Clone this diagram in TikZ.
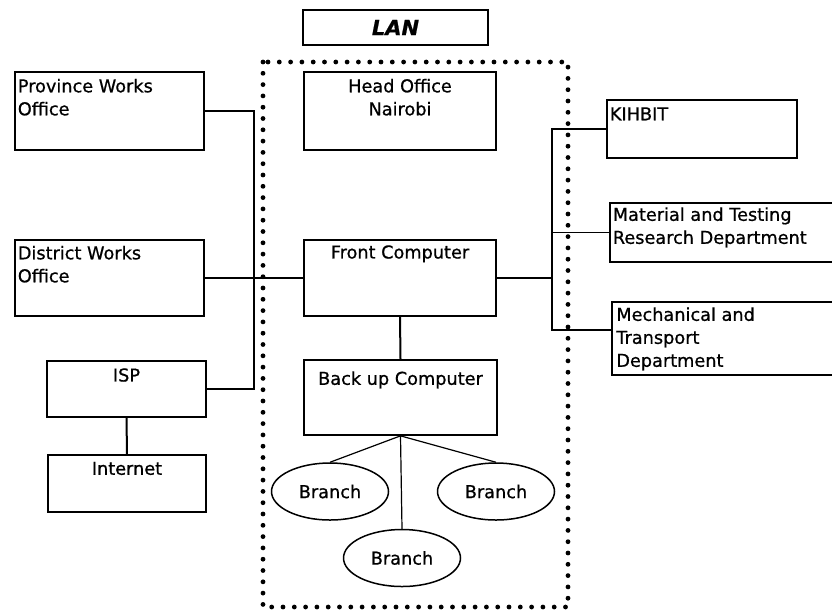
\documentclass[tikz,border=0pt]{standalone}
\usepackage{fontspec}
\setmainfont{DejaVu Sans}[FakeBold=0.8]
\usetikzlibrary{shapes.geometric}
\begin{document}
\begin{tikzpicture}[x=1pt,y=-1pt,
  font=\fontsize{17.7}{23}\selectfont,
  box/.style={draw, line width=1.7pt, inner sep=0pt},
  link/.style={line width=1.2pt},
  trunk/.style={line width=2pt},
  txt/.style={inner sep=0pt, align=left},
  tl/.style={txt, anchor=north west, xshift=3.5pt, yshift=-6.5pt},
  tc/.style={txt, anchor=north, align=center},
  branch/.style={draw, ellipse, line width=1.5pt, minimum width=117pt,
                 minimum height=57pt, inner sep=0pt},
  lanzone/.style={line width=4.8pt, line cap=round, dash pattern=on 0pt off 11.3pt}
]
\useasboundingbox (0,0) rectangle (832,614);
\clip (0,0) rectangle (832,614);

% title
\node[box, minimum width=185pt, minimum height=35pt,
      font=\fontsize{21}{21}\selectfont\bfseries\itshape] (lan) at (395.5,27.5) {LAN};

% left column
\node[box, minimum width=189pt, minimum height=78pt,
      label={[tl, yshift=-1pt]north west:Province Works\\Office}] (prov) at (109.5,111) {};
\node[box, minimum width=189pt, minimum height=76pt,
      label={[tl]north west:District Works\\Office}] (dist) at (109.5,278) {};
\node[box, minimum width=159pt, minimum height=56pt,
      label={[tc, yshift=-8pt]north:ISP}] (isp) at (126.5,389) {};
\node[box, minimum width=158pt, minimum height=57pt,
      label={[tc, yshift=-7.5pt]north:Internet}] (inet) at (127,483.5) {};

% centre column
\node[box, minimum width=192pt, minimum height=78pt,
      label={[tc, yshift=-7.5pt]north:Head Office\\Nairobi}] (head) at (400,111) {};
\node[box, minimum width=192pt, minimum height=76pt,
      label={[tc, yshift=-6pt]north:Front Computer}] (front) at (400,278) {};
\node[box, minimum width=193pt, minimum height=75pt,
      label={[tc, yshift=-12pt]north:Back up Computer}] (back) at (400.5,397.5) {};

\node[branch] (b1) at (330,491.5) {Branch};
\node[branch] (b3) at (496,491.5) {Branch};
\node[branch] (b2) at (402,558) {Branch};

% right column
\node[box, minimum width=190pt, minimum height=58pt,
      label={[tl, yshift=-1.5pt]north west:KIHBIT}] (kih) at (702,129) {};
\node[box, minimum width=250pt, minimum height=59pt,
      label={[tl, yshift=1.5pt]north west:Material and Testing\\Research Department}] (mat) at (735,232.5) {};
\node[box, minimum width=248pt, minimum height=73pt,
      label={[tl, xshift=1.5pt, yshift=0.5pt]north west:Mechanical and\\Transport\\Department}] (mech) at (736,338.5) {};

% connectors
\coordinate (lbT) at (254,111);
\coordinate (lbB) at (254,389);
\draw[link] (prov.east) -- (lbT) -- (lbB) -- (isp.east);
\draw[link] (dist.east) -- (front.west);
\draw[trunk] (isp.south) -- (inet.north);

\coordinate (rbT) at (552,129);
\coordinate (rbB) at (552,330);
\coordinate (mechIn) at (612,330);
\draw[link] (kih.west) -- (rbT) -- (rbB) -- (mechIn);
\draw[link] (mat.west) -- (mat.west -| rbB);
\draw[link] (front.east) -- (front.east -| rbB);

\draw[trunk] (front.south) -- (back.north);
\draw[link] (back.south) -- (b1.north);
\draw[link] (back.south) -- (b2.north);
\draw[link] (back.south) -- (b3.north);

% LAN boundary
\draw[lanzone] (263,62) rectangle (568,607);
\end{tikzpicture}
\end{document}
